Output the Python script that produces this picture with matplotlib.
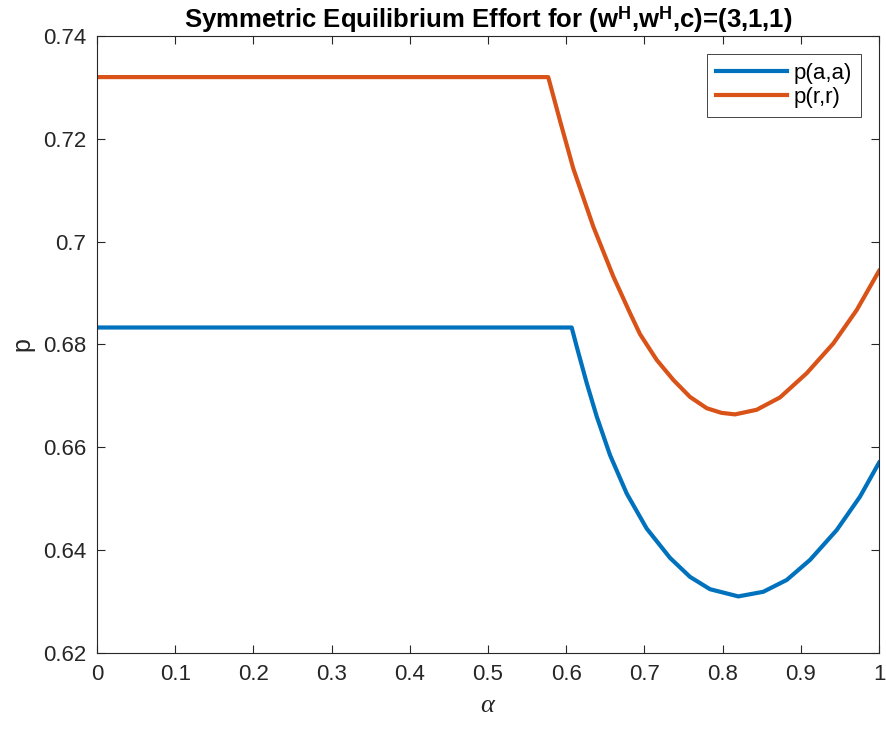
import matplotlib.pyplot as plt

plt.rcParams['font.family'] = ['Liberation Sans', 'DejaVu Sans']
plt.rcParams['mathtext.fontset'] = 'custom'
plt.rcParams['mathtext.rm'] = 'Liberation Sans'
plt.rcParams['mathtext.bf'] = 'Liberation Sans:bold'
plt.rcParams['mathtext.it'] = 'Liberation Serif:italic'

# values
alpha_rr = [0.0, 0.577, 0.5921, 0.6091, 0.6347, 0.6603, 0.6816, 0.6944, 0.7157,
            0.737, 0.7583, 0.7797, 0.7985, 0.8159, 0.8436, 0.8734, 0.9075,
            0.9416, 0.9715, 1.0]
p_rr = [0.7320, 0.7320, 0.7235, 0.7142, 0.7029, 0.6932, 0.6861, 0.6820, 0.6770,
        0.6731, 0.6698, 0.6676, 0.6667, 0.6664, 0.6673, 0.6697, 0.6744,
        0.6802, 0.6867, 0.6943]

alpha_aa = [0.0, 0.607, 0.6134, 0.6262, 0.639, 0.656, 0.6774, 0.7029, 0.7327,
            0.7583, 0.7839, 0.8201, 0.852, 0.882, 0.9118, 0.9459, 0.9757, 1.0]
p_aa = [0.6833, 0.6833, 0.6796, 0.6725, 0.6660, 0.6585, 0.6510, 0.6442, 0.6385,
        0.6348, 0.6324, 0.6310, 0.6319, 0.6342, 0.6381, 0.6439, 0.6504, 0.6570]

blue = '#0072BD'
orange = '#D95319'

fig = plt.figure(figsize=(8.86, 7.34), dpi=100)
ax = fig.add_axes([0.1095, 0.1104, 0.8826, 0.8406])

ax.plot(alpha_aa, p_aa, color=blue, lw=3, label='p(a,a)', solid_joinstyle='round')
ax.plot(alpha_rr, p_rr, color=orange, lw=3, label='p(r,r)', solid_joinstyle='round')

ax.set_xlim(0, 1)
ax.set_ylim(0.62, 0.74)
ax.set_xticks([0, 0.1, 0.2, 0.3, 0.4, 0.5, 0.6, 0.7, 0.8, 0.9, 1])
ax.set_xticklabels(['0', '0.1', '0.2', '0.3', '0.4', '0.5', '0.6', '0.7', '0.8', '0.9', '1'])
ax.set_yticks([0.62, 0.64, 0.66, 0.68, 0.7, 0.72, 0.74])
ax.set_yticklabels(['0.62', '0.64', '0.66', '0.68', '0.7', '0.72', '0.74'])
ax.tick_params(direction='in', top=True, right=True, length=6, width=0.8,
               labelsize=16, colors='#262626', pad=8)
for s in ax.spines.values():
    s.set_color('#262626')
    s.set_linewidth(0.8)

ax.set_xlabel(r'$\alpha$', fontsize=19, color='#262626', labelpad=6)
ax.set_ylabel('p', fontsize=18, color='#262626', labelpad=6)
ax.set_title(r'Symmetric Equilibrium Effort for (w$^{\mathbf{H}}$,w$^{\mathbf{H}}$,c)=(3,1,1)',
             fontsize=18.5, fontweight='bold', pad=6)

leg = ax.legend(loc='upper right', fontsize=16, fancybox=False, framealpha=1,
                edgecolor='#262626', handlelength=3.2, borderaxespad=0.8,
                handletextpad=0.3, borderpad=0.4, labelspacing=0.15)
leg.get_frame().set_linewidth(0.6)

fig.savefig('out.png', dpi=100)
